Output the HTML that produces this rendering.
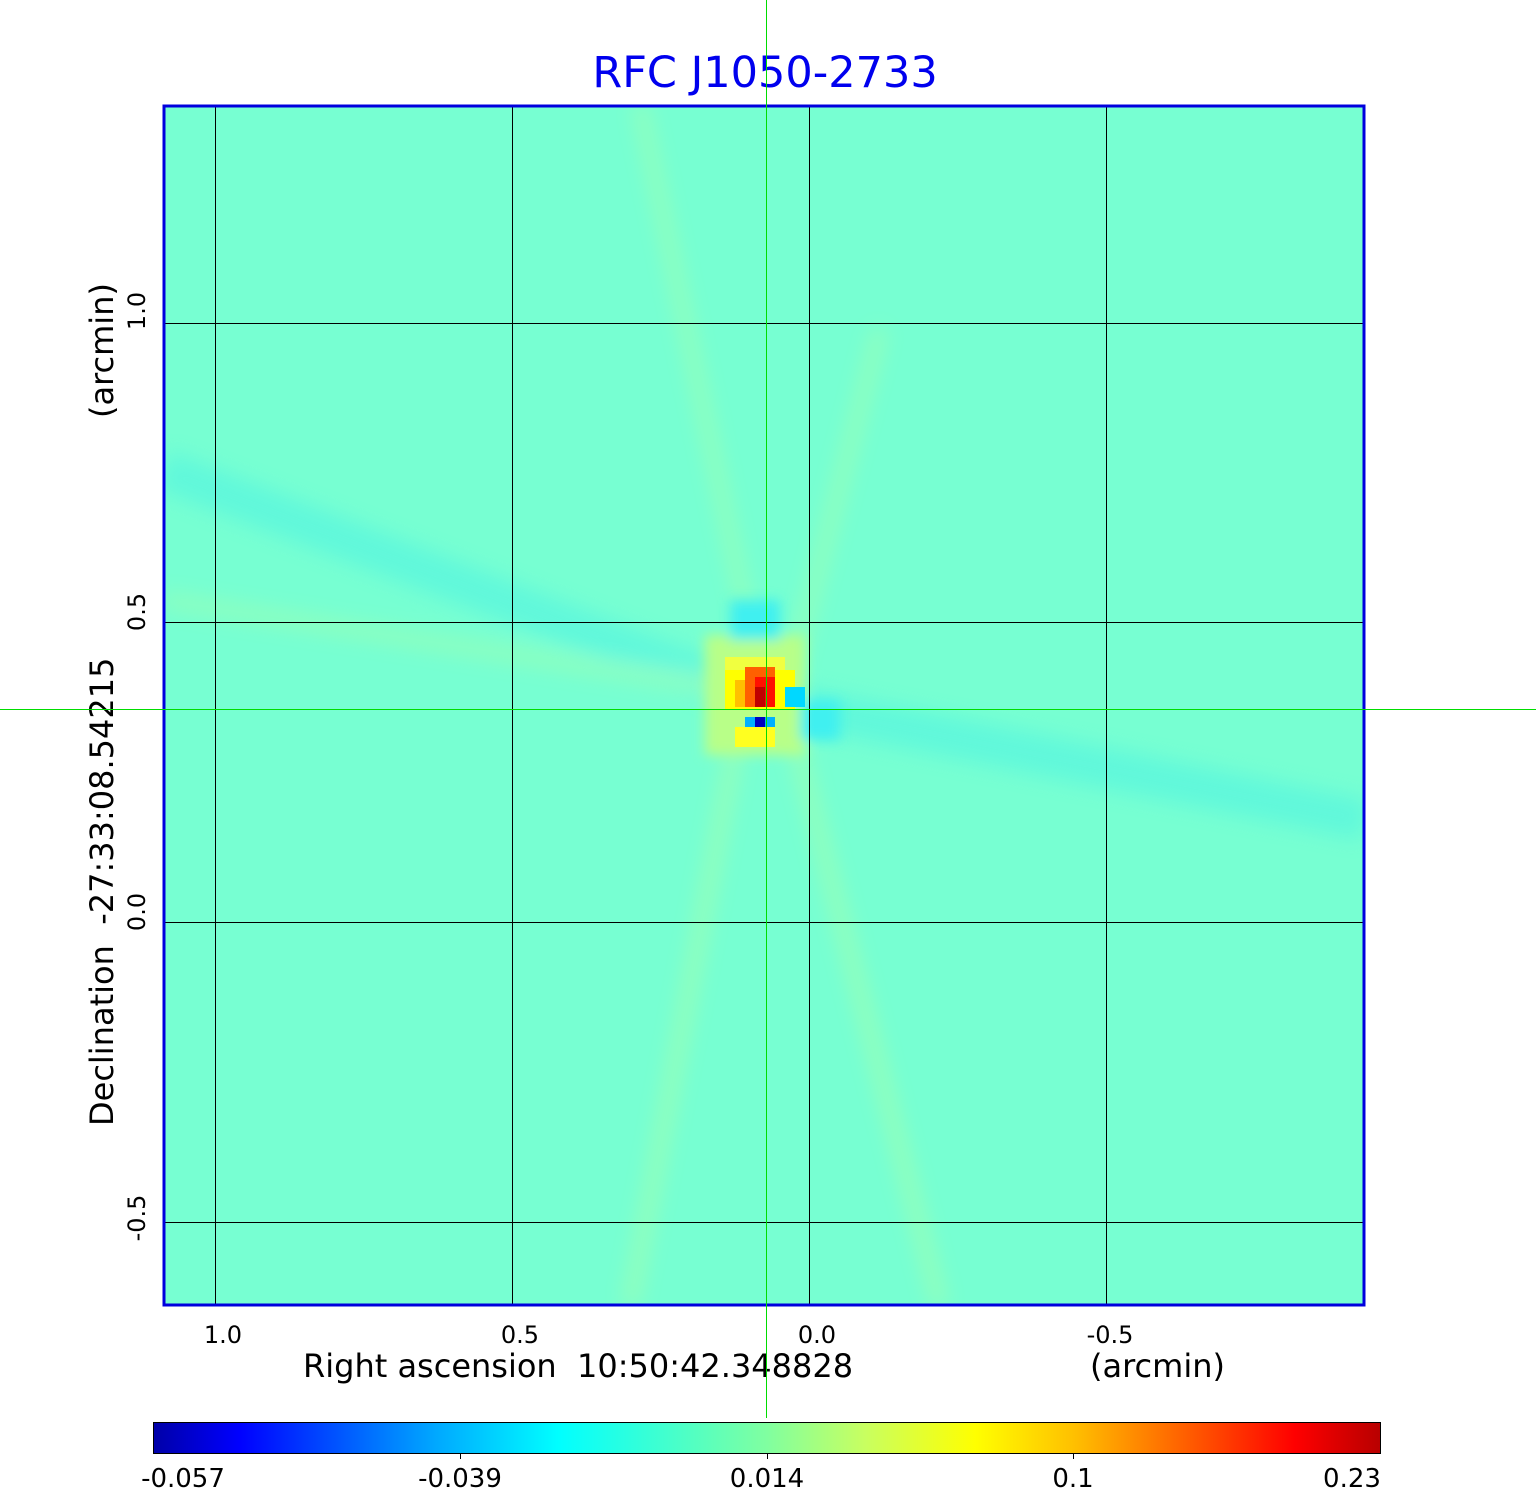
<!DOCTYPE html>
<html><head><meta charset="utf-8"><style>
body{margin:0;background:#fff;}
svg{display:block;font-family:"DejaVu Sans","Liberation Sans",sans-serif;}
</style></head><body>
<svg width="1536" height="1511" xmlns="http://www.w3.org/2000/svg">
<defs>
<linearGradient id="cb" x1="0" x2="1" y1="0" y2="0">
<stop offset="0" stop-color="#0000a8"/>
<stop offset="0.07" stop-color="#0000ff"/>
<stop offset="0.23" stop-color="#00a8ff"/>
<stop offset="0.33" stop-color="#00ffff"/>
<stop offset="0.5" stop-color="#80ffa0"/>
<stop offset="0.58" stop-color="#c8ff60"/>
<stop offset="0.67" stop-color="#ffff00"/>
<stop offset="0.75" stop-color="#ffc000"/>
<stop offset="0.93" stop-color="#ff0000"/>
<stop offset="1" stop-color="#b80000"/>
</linearGradient>
<filter id="bl" x="-20%" y="-20%" width="140%" height="140%"><feGaussianBlur stdDeviation="10"/></filter>
<filter id="bs" x="-50%" y="-50%" width="200%" height="200%"><feGaussianBlur stdDeviation="6"/></filter>
<clipPath id="pc"><rect x="163" y="105" width="1202" height="1201"/></clipPath>
</defs>
<text x="765" y="87" font-size="43" fill="#0000ee" text-anchor="middle">RFC J1050-2733</text>
<rect x="163" y="105" width="1202" height="1201" fill="#77ffd2"/>
<g clip-path="url(#pc)">
<g filter="url(#bl)" opacity="0.4">
<line x1="765" y1="700" x2="163" y2="470" stroke="#40eee8" stroke-width="40"/>
<line x1="765" y1="700" x2="1365" y2="820" stroke="#40eee8" stroke-width="40"/>
<line x1="740" y1="720" x2="630" y2="1306" stroke="#c8ff90" stroke-width="14"/>
<line x1="790" y1="720" x2="940" y2="1306" stroke="#c8ff90" stroke-width="14"/>
<line x1="760" y1="680" x2="640" y2="105" stroke="#c8ff90" stroke-width="12"/>
<line x1="790" y1="680" x2="880" y2="330" stroke="#c8ff90" stroke-width="12"/>
<line x1="740" y1="690" x2="163" y2="600" stroke="#b8ff98" stroke-width="14"/>
</g>
<g filter="url(#bs)">
<rect x="705" y="635" width="100" height="120" fill="#b8ff88"/>
<rect x="730" y="600" width="50" height="40" fill="#40f0f0"/>
<rect x="800" y="700" width="40" height="40" fill="#40f0f0"/>
</g>
</g>
<g shape-rendering="crispEdges">
<rect x="725" y="657" width="60" height="13" fill="#f0ff40"/>
<rect x="725" y="670" width="70" height="40" fill="#ffff00"/>
<rect x="735" y="727" width="40" height="20" fill="#ffff20"/>
<rect x="745" y="667" width="30" height="40" fill="#ff6000"/>
<rect x="735" y="680" width="10" height="27" fill="#ffc000"/>
<rect x="755" y="677" width="20" height="30" fill="#ff1000"/>
<rect x="755" y="687" width="10" height="20" fill="#c00000"/>
<rect x="745" y="717" width="30" height="10" fill="#00b0ff"/>
<rect x="755" y="717" width="10" height="10" fill="#0000c0"/>
<rect x="785" y="687" width="20" height="20" fill="#00d8ff"/>
</g>
<g stroke="#000" stroke-width="1" shape-rendering="crispEdges">
<line x1="215.5" y1="105" x2="215.5" y2="1306"/>
<line x1="512.5" y1="105" x2="512.5" y2="1306"/>
<line x1="809.5" y1="105" x2="809.5" y2="1306"/>
<line x1="1106.5" y1="105" x2="1106.5" y2="1306"/>
<line x1="163" y1="323.5" x2="1365" y2="323.5"/>
<line x1="163" y1="622.5" x2="1365" y2="622.5"/>
<line x1="163" y1="922.5" x2="1365" y2="922.5"/>
<line x1="163" y1="1222.5" x2="1365" y2="1222.5"/>
</g>
<rect x="164" y="106" width="1200" height="1199" fill="none" stroke="#0000dd" stroke-width="3"/>
<g font-size="24" fill="#000" text-anchor="middle">
<text x="223" y="1343">1.0</text>
<text x="520" y="1343">0.5</text>
<text x="817" y="1343">0.0</text>
<text x="1110" y="1343">-0.5</text>
</g>
<text x="303" y="1377" font-size="32">Right ascension&#160;&#160;10:50:42.348828</text>
<text x="1090" y="1377" font-size="32">(arcmin)</text>
<g font-size="24" text-anchor="middle">
<text transform="translate(145,311) rotate(-90)">1.0</text>
<text transform="translate(145,612) rotate(-90)">0.5</text>
<text transform="translate(145,912) rotate(-90)">0.0</text>
<text transform="translate(145,1218) rotate(-90)">-0.5</text>
</g>
<text transform="translate(113,1126) rotate(-90)" font-size="32">Declination&#160;&#160;-27:33:08.54215</text>
<text transform="translate(113,418) rotate(-90)" font-size="32">(arcmin)</text>
<rect x="153.5" y="1422.5" width="1227" height="31" fill="url(#cb)" stroke="#000" stroke-width="1"/>
<g stroke="#000">
<line x1="460.5" y1="1454" x2="460.5" y2="1459"/>
<line x1="767.5" y1="1454" x2="767.5" y2="1459"/>
<line x1="1073.5" y1="1454" x2="1073.5" y2="1459"/>
</g>
<g font-size="26" text-anchor="middle">
<text x="183" y="1487">-0.057</text>
<text x="460" y="1487">-0.039</text>
<text x="767" y="1487">0.014</text>
<text x="1073" y="1487">0.1</text>
<text x="1352" y="1487">0.23</text>
</g>
<rect x="766" y="0" width="1" height="1418" fill="#00dd00"/>
<rect x="0" y="709" width="1536" height="1" fill="#00dd00"/>
</svg>
</body></html>
